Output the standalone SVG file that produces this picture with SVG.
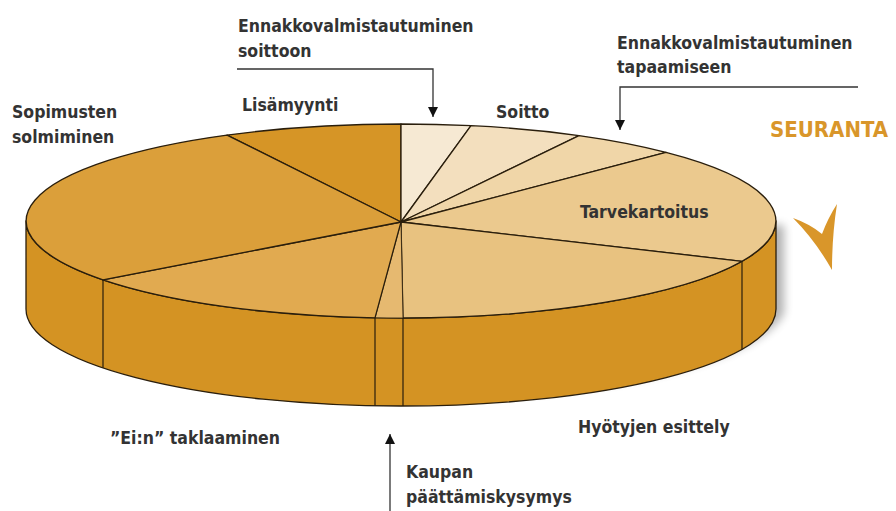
<svg xmlns="http://www.w3.org/2000/svg" width="896" height="511" viewBox="0 0 896 511">
<style>
.t{font-family:"DejaVu Sans Condensed","DejaVu Sans",sans-serif;font-size:17.5px;font-weight:bold;fill:#333;}
.s{stroke:#2a1e0c;stroke-width:1.3;stroke-linejoin:round;}
.e{stroke:#2a1e0c;stroke-width:1.2;fill:none;}
.c{stroke:#333;stroke-width:1.3;fill:none;}
</style>
<defs>
<filter id="sh" x="-10%" y="-30%" width="120%" height="160%"><feGaussianBlur stdDeviation="5"/></filter>
<marker id="ah" viewBox="0 0 10 10" refX="10" refY="5" markerWidth="10" markerHeight="12" markerUnits="userSpaceOnUse" orient="auto"><path d="M0,0 L10,5 L0,10 Z" fill="#111"/></marker>
</defs>
<g id="pie">
<path d="M40,225 L40,313 A375 97 0 0 0 784,313 L784,225 Z" fill="#000" opacity="0.3" filter="url(#sh)"/>
<path class="s" d="M26,221 L26,309 A375 97 0 0 0 776,309 L776,221 A375 97 0 0 1 26,221 Z" fill="#D49323"/>
<path class="e" d="M103,279.8 V367.8 M375,317.8 V405.8 M403,318 V406 M742,261.3 V349.3"/>
<g id="slice-lisamyynti"><path class="s" d="M401,222 L227,135.1 A375 97 0 0 1 401,124 Z" fill="#D69526"/></g>
<g id="slice-ennakko-soitto"><path class="s" d="M401,222 L401,124 A375 97 0 0 1 471,125.7 Z" fill="#F6E9D3"/></g>
<g id="slice-soitto"><path class="s" d="M401,222 L471,125.7 A375 97 0 0 1 579,135.6 Z" fill="#F3DFBE"/></g>
<g id="slice-ennakko-tapaaminen"><path class="s" d="M401,222 L579,135.6 A375 97 0 0 1 666,152.4 Z" fill="#F0D6A8"/></g>
<g id="slice-tarvekartoitus"><path class="s" d="M401,222 L666,152.4 A375 97 0 0 1 742,261.3 Z" fill="#EBC98E"/></g>
<g id="slice-hyotyjen"><path class="s" d="M401,222 L742,261.3 A375 97 0 0 1 403,318 Z" fill="#E8C280"/></g>
<g id="slice-kaupan"><path d="M401,222 L403,318 A375 97 0 0 1 375,317.8 Z" fill="#E6B970" stroke="#2a1e0c" stroke-width="0.8"/></g>
<g id="slice-ein"><path class="s" d="M401,222 L375,317.8 A375 97 0 0 1 103,279.8 Z" fill="#E1AA50"/></g>
<g id="slice-sopimusten"><path class="s" d="M401,222 L103,279.8 A375 97 0 0 1 227,135.1 Z" fill="#DB9F3A"/></g>
</g>
<g id="connectors">
<path class="c" d="M237,69 H433 V117" marker-end="url(#ah)"/>
<path class="c" d="M858,87 H620 V130" marker-end="url(#ah)"/>
<path class="c" d="M390,511 V434" marker-end="url(#ah)"/>
</g>
<g id="seuranta">
<text x="770" y="137" font-family="'DejaVu Sans Condensed','DejaVu Sans',sans-serif" font-size="22" font-weight="bold" fill="#D9962A">SEURANTA</text>
<path d="M793,218 Q810,224 822,234 Q828,218 837,204 Q832,236 832,270 Q815,240 793,218 Z" fill="#D9962A"/>
</g>
<g id="labels">
<text class="t" x="238" y="32">Ennakkovalmistautuminen</text>
<text class="t" x="238" y="57">soittoon</text>
<text class="t" x="617" y="49">Ennakkovalmistautuminen</text>
<text class="t" x="617" y="73">tapaamiseen</text>
<text class="t" x="242" y="111">Lisämyynti</text>
<text class="t" x="496" y="118">Soitto</text>
<text class="t" x="12" y="118">Sopimusten</text>
<text class="t" x="12" y="143">solmiminen</text>
<text class="t" x="580" y="218">Tarvekartoitus</text>
<text class="t" x="578" y="433">Hyötyjen esittely</text>
<text class="t" x="110" y="444">”Ei:n” taklaaminen</text>
<text class="t" x="406" y="478">Kaupan</text>
<text class="t" x="406" y="503">päättämiskysymys</text>
</g>
</svg>
